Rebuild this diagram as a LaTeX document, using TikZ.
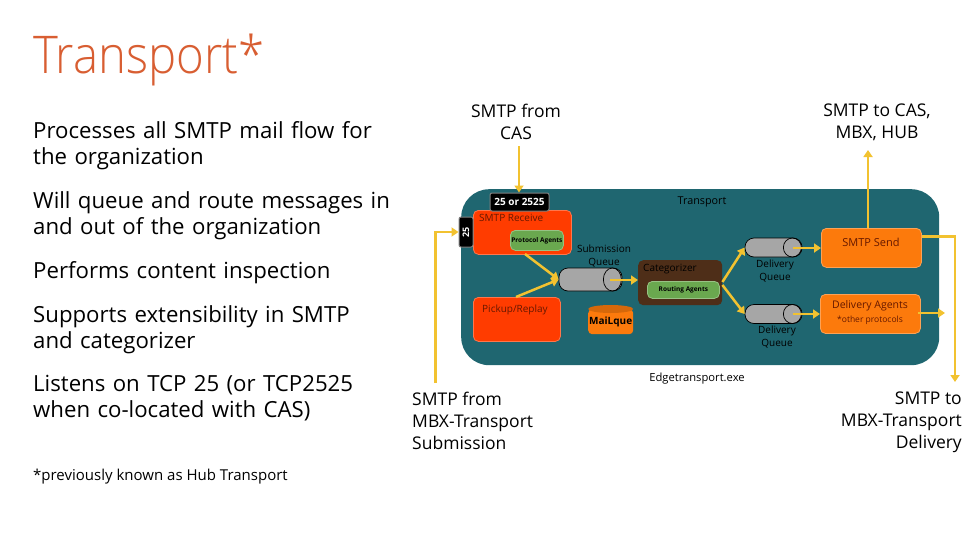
\documentclass[tikz,border=0pt]{standalone}
\usepackage{fontspec}
\setmainfont{Open Sans}
\newfontfamily\titlefont{Open Sans Light}
\usetikzlibrary{arrows.meta}
\definecolor{panelteal}{HTML}{1F6670}
\definecolor{recvred}{HTML}{FF3C00}
\definecolor{sendorange}{HTML}{FC7A0C}
\definecolor{agentgreen}{HTML}{6AA84F}
\definecolor{catbrown}{HTML}{4E2E18}
\definecolor{flowyellow}{HTML}{F2C230}
\definecolor{titlered}{HTML}{D85E32}
\tikzset{
	bullet/.style={anchor=north west, align=left, inner sep=0pt, text width=375, font=\fontsize{22.2}{26}\selectfont},
	callout/.style={align=center, inner sep=0pt, font=\fontsize{17.5}{22}\selectfont},
	tiny/.style={inner sep=0pt, align=center, font=\fontsize{10}{12.5}\selectfont, text=black},
	boxnode/.style={anchor=north west, inner sep=0pt, rounded corners=5, draw=#1!70!white, line width=0.8, fill=#1},
	portbox/.style={fill=black, draw=gray, line width=1, rounded corners=2, inner sep=0pt, text=white},
	queue/.style={draw=black, line width=0.7, fill=gray!70, rounded corners=9, minimum height=#1, minimum width=57, inner sep=0pt},
	queueend/.style={draw=black, line width=0.7},
	flow/.style={draw=flowyellow, line width=2.5, -{Triangle[length=7,width=9]}},
}
\begin{document}
\begin{tikzpicture}[x=1pt,y=-1pt]
	\useasboundingbox (0,0) rectangle (979,551);
	\node[anchor=north west, inner sep=0pt, text=titlered, font=\fontsize{52}{52}\titlefont, xscale=0.91, transform shape] (title) at (33,34) {Transport*};
	% left column
	\node[bullet] (b1) at (33,121) {Processes all SMTP mail flow for\\the organization};
	\node[bullet] (b2) at (33,191) {Will queue and route messages in\\and out of the organization};
	\node[bullet] (b3) at (33,261) {Performs content inspection};
	\node[bullet] (b4) at (33,305) {Supports extensibility in SMTP\\and categorizer};
	\node[bullet] (b5) at (33,375) {Listens on TCP 25 (or TCP2525\\when co-located with CAS)};
	\node[anchor=north west, inner sep=0pt, font=\fontsize{15}{18}\selectfont] (note) at (33,469) {*previously known as Hub Transport};
	% panel
	\node[anchor=north west, inner sep=0pt, fill=panelteal, rounded corners=28, minimum width=478, minimum height=176] (panel) at (461,189) {};
	\node[tiny, font=\fontsize{10.8}{13}\selectfont] (paneltitle) at (702,202) {Transport};
	\node[tiny, font=\fontsize{11.2}{13}\selectfont] (exe) at (697,379) {Edgetransport.exe};
	% receive side
	\node[boxnode=recvred, minimum width=98, minimum height=44] (recv) at (473,210) {};
	\node[tiny, anchor=west, text=recvred!40!black] (recvlabel) at (479,218) {SMTP Receive};
	\node[boxnode=agentgreen, minimum width=53, minimum height=20, font=\fontsize{6.5}{8}\selectfont\bfseries] (protocol) at (510,230) {Protocol Agents};
	\node[portbox, minimum width=59, minimum height=18, font=\fontsize{10}{12}\selectfont\bfseries] (port2525) at (519.5,202) {25 or 2525};
	\node[portbox, rotate=90, minimum width=30, minimum height=14, font=\fontsize{9}{10}\selectfont\bfseries] (port25) at (466,232) {25};
	\node[boxnode=recvred, minimum width=87, minimum height=44] (pickup) at (473,297) {};
	\node[tiny, anchor=west, text=recvred!40!black] (pickuplabel) at (482,310) {Pickup/Replay};
	% queues
	\node[queue=23, minimum width=63] (subq) at (590.5,279.5) {};
	\node[tiny] (subqlabel) at (604,256) {Submission\\Queue};
	\node[anchor=north west, inner sep=0pt, fill=catbrown, rounded corners=5, minimum width=84, minimum height=45] (cat) at (638,260) {};
	\node[tiny, anchor=west] (catlabel) at (643,269) {Categorizer};
	\node[boxnode=agentgreen, minimum width=72, minimum height=17, font=\fontsize{6.5}{8}\selectfont\bfseries] (routing) at (647,281) {Routing Agents};
	\node[anchor=north west, inner sep=0pt, fill=sendorange, rounded corners=4, minimum width=45, minimum height=25, font=\fontsize{10}{12}\selectfont\bfseries] (mailq) at (588,309) {\raisebox{-2pt}{MaiLque}};
	\node[queue=19] (dq1) at (773.5,247.5) {};
	\node[tiny] (dq1label) at (775,271) {Delivery\\Queue};
	\node[queue=19] (dq2) at (773.5,314) {};
	\node[tiny] (dq2label) at (777,337) {Delivery\\Queue};
	\foreach \q/\r in {subq/11.5,dq1/9.5,dq2/9.5}
		\draw[queueend] ([xshift=-10]\q.east) ellipse (9 and \r);
	\draw[fill=sendorange!85!black, draw=none] (mailq.north) ellipse (22.5 and 4);
	% send side
	\node[boxnode=sendorange, minimum width=100, minimum height=39] (send) at (821,228) {};
	\node[tiny, text=recvred!40!black, font=\fontsize{11}{13}\selectfont] (sendlabel) at (871,242) {SMTP Send};
	\node[boxnode=sendorange, minimum width=100, minimum height=39, align=center] (agents) at (820,294) {};
	\node[tiny, text=recvred!40!black, font=\fontsize{10.5}{13}\selectfont] (agentslabel) at (870,306) {Delivery Agents};
	\node[tiny, text=recvred!40!black, font=\fontsize{8.5}{10}\selectfont] (otherlabel) at (870,320) {*other protocols};
	% callouts
	\node[callout] (fromcas) at (516,122) {SMTP from\\CAS};
	\node[callout] (tocas) at (877,122) {SMTP to CAS,\\MBX, HUB};
	\node[callout, align=left, anchor=north west] (frommbx) at (412,392) {SMTP from\\MBX-Transport\\Submission};
	\node[callout, align=right, anchor=north east] (tombx) at (962,392) {SMTP to\\MBX-Transport\\Delivery};
	% flows
	\coordinate (fromcasend) at (519,146);
	\coordinate (tocasend) at (868,150);
	\coordinate (frommbxend) at (435.5,383);
	\coordinate (tombxend) at (955,382);
	\coordinate (agentsout) at (945,313);
	\draw[flow] (fromcasend) -- (fromcasend |- port2525.north);
	\draw[flow] (tocasend |- send.north) -- (tocasend);
	\draw[flow] (frommbxend) |- (port25.north);
	\draw[flow] (send.east |- 0,236.5) -| (tombxend);
	\draw[flow] (agents.east |- agentsout) ++(-3,0) -- (agentsout);
	\draw[flow] (525,254) -- (subq.west);
	\draw[flow] (516,297) -- (subq.west);
	\draw[flow] (610,280) -- (cat.west |- 0,280);
	\draw[flow] (cat.east |- 0,282) -- (dq1.west);
	\draw[flow] (cat.east |- 0,285) -- (dq2.west);
	\draw[flow] (793,248) -- (send.west |- 0,248);
	\draw[flow] (793,314) -- (agents.west |- 0,314);
\end{tikzpicture}
\end{document}
